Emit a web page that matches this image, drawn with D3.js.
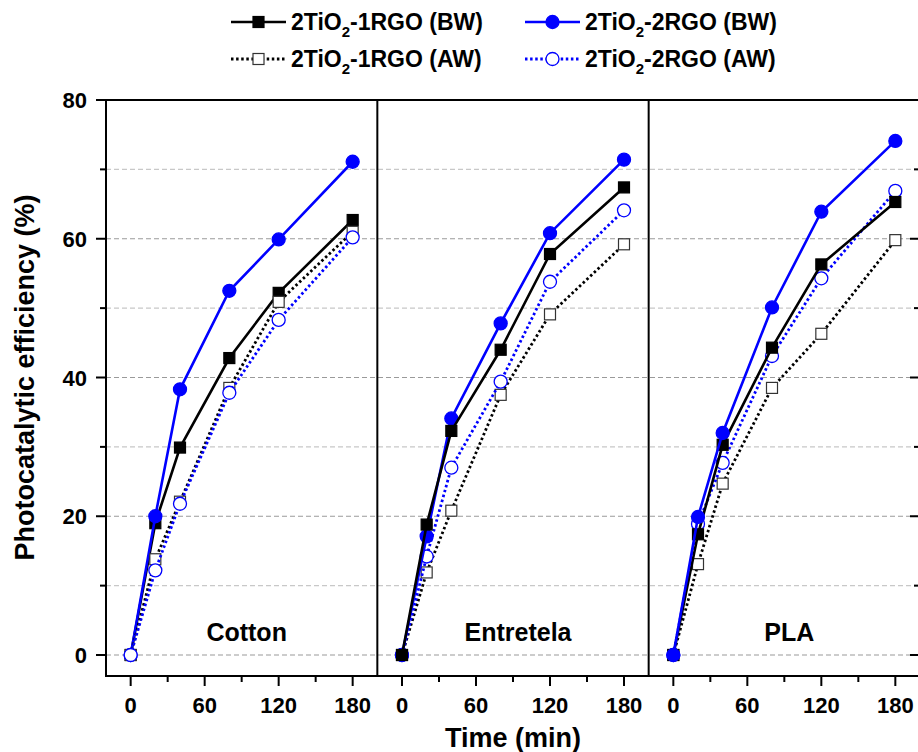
<!DOCTYPE html>
<html lang="en">
<head>
<meta charset="UTF-8">
<title>Photocatalytic efficiency</title>
<script src="https://cdn.jsdelivr.net/npm/d3@7"></script>
<style>
  body { margin: 0; background: #fff; }
  text { font-family: Arial, "Liberation Sans", sans-serif; font-weight: bold; fill: #000; }
</style>
</head>
<body>
<script>
// data
const times = [0, 20, 40, 80, 120, 180];
const panels = ["Cotton", "Entretela", "PLA"];
const seriesNames = ["1RGO (BW)", "2RGO (BW)", "1RGO (AW)", "2RGO (AW)"];

const cottonBW1 = [0, 19.0, 29.9, 42.8, 52.2, 62.7];
const cottonBW2 = [0, 20.0, 38.3, 52.5, 59.9, 71.1];
const cottonAW1 = [0, 13.8, 22.1, 38.5, 50.9, 61.0];
const cottonAW2 = [0, 12.2, 21.8, 37.8, 48.3, 60.2];

const entreBW1 = [0, 18.8, 32.3, 44.0, 57.8, 67.4];
const entreBW2 = [0, 17.1, 34.1, 47.8, 60.8, 71.4];
const entreAW1 = [0, 11.9, 20.8, 37.5, 49.1, 59.2];
const entreAW2 = [0, 14.2, 27.0, 39.4, 53.8, 64.1];

const plaBW1 = [0, 17.4, 30.3, 44.3, 56.3, 65.3];
const plaBW2 = [0, 19.9, 32.0, 50.1, 63.9, 74.1];
const plaAW1 = [0, 13.1, 24.7, 38.5, 46.3, 59.8];
const plaAW2 = [0, 18.9, 27.7, 43.1, 54.3, 66.9];

const panelData = [
  [cottonBW1, cottonBW2, cottonAW1, cottonAW2],
  [entreBW1, entreBW2, entreAW1, entreAW2],
  [plaBW1, plaBW2, plaAW1, plaAW2]
];
// which series ends up on top differs per panel
const drawOrder = [[0, 1, 2, 3], [2, 3, 1, 0], [2, 3, 0, 1]];

const yTicks = [0, 20, 40, 60, 80];
const xTicks = [0, 60, 120, 180];

// styles per series: BW1, BW2, AW1, AW2
const styles = [
  { color: "#000", dash: null, shape: "square", fill: "#000" },
  { color: "#0000ff", dash: null, shape: "circle", fill: "#0000ff" },
  { color: "#000", dash: "2.5,2.6", shape: "square", fill: "#fff" },
  { color: "#0000ff", dash: "2.5,2.6", shape: "circle", fill: "#fff" }
];

const width = 918, height = 752;
const plotL = 106, plotR = 920, plotT = 100, plotB = 676;
const panelW = (plotR - plotL) / 3;

const svg = d3.select("body").append("svg")
  .attr("width", width)
  .attr("height", height);

const y = d3.scaleLinear().domain([0, 80]).range([655, plotT]);

// gridlines every 10, across all panels
const grid = svg.append("g");
d3.range(0, 80, 10).forEach(v => {
  grid.append("line")
    .attr("x1", plotL).attr("x2", plotR)
    .attr("y1", y(v)).attr("y2", y(v))
    .attr("stroke", v % 20 === 0 ? "#9a9a9a" : "#c8c8c8")
    .attr("stroke-width", 1.2)
    .attr("stroke-dasharray", "5,3");
});

function marker(g, s, cx, cy) {
  if (s.shape === "square") {
    g.append("rect")
      .attr("x", cx - 5.5).attr("y", cy - 5.5)
      .attr("width", 11).attr("height", 11)
      .attr("fill", s.fill)
      .attr("stroke", s.fill === "#fff" ? "#333" : "#000")
      .attr("stroke-width", 1.2);
  } else {
    g.append("circle")
      .attr("cx", cx).attr("cy", cy).attr("r", 6.5)
      .attr("fill", s.fill)
      .attr("stroke", s.color)
      .attr("stroke-width", 1.3);
  }
}

panels.forEach((name, p) => {
  const x0 = plotL + p * panelW;
  const x = d3.scaleLinear().domain([-20, 200]).range([x0, x0 + panelW]);
  const g = svg.append("g");

  const line = d3.line()
    .x((d, i) => x(times[i]))
    .y(d => y(d));

  drawOrder[p].forEach(k => {
    const s = styles[k];
    const vals = panelData[p][k];
    g.append("path")
      .attr("d", line(vals))
      .attr("fill", "none")
      .attr("stroke", s.color)
      .attr("stroke-width", s.dash ? 2.8 : 2.6)
      .attr("stroke-dasharray", s.dash);
    vals.forEach((v, i) => marker(g, s, x(times[i]), y(v)));
  });

  // bottom axis
  const ax = svg.append("g").attr("transform", `translate(0,${plotB})`);
  d3.range(0, 181, 30).forEach(t => {
    const major = t % 60 === 0;
    ax.append("line")
      .attr("x1", x(t)).attr("x2", x(t))
      .attr("y1", 0).attr("y2", major ? 10 : 6)
      .attr("stroke", "#000").attr("stroke-width", 2);
  });
  ax.selectAll("text.tick").data(xTicks).join("text")
    .attr("x", d => x(d))
    .attr("y", 37)
    .attr("text-anchor", "middle")
    .attr("font-size", 22)
    .text(d => d);

  svg.append("text")
    .attr("x", x(90) + 5)
    .attr("y", 641)
    .attr("text-anchor", "middle")
    .attr("font-size", 25)
    .text(name);

  if (p > 0) {
    svg.append("line")
      .attr("x1", x0).attr("x2", x0)
      .attr("y1", plotT).attr("y2", plotB)
      .attr("stroke", "#000").attr("stroke-width", 2);
  }
});

// frame
svg.append("line").attr("x1", plotL - 10).attr("x2", plotR).attr("y1", plotT).attr("y2", plotT)
  .attr("stroke", "#000").attr("stroke-width", 2);
svg.append("line").attr("x1", plotL).attr("x2", plotR).attr("y1", plotB).attr("y2", plotB)
  .attr("stroke", "#000").attr("stroke-width", 2);
svg.append("line").attr("x1", plotL).attr("x2", plotL).attr("y1", plotT).attr("y2", plotB + 1)
  .attr("stroke", "#000").attr("stroke-width", 2);
svg.append("line").attr("x1", plotR).attr("x2", plotR).attr("y1", plotT).attr("y2", plotB)
  .attr("stroke", "#000").attr("stroke-width", 2);

// y ticks, left outward and right inward
d3.range(0, 81, 10).forEach(v => {
  const major = v % 20 === 0;
  const len = major ? 10 : 6;
  svg.append("line").attr("x1", plotL - len).attr("x2", plotL)
    .attr("y1", y(v)).attr("y2", y(v)).attr("stroke", "#000").attr("stroke-width", 2);
  svg.append("line").attr("x1", plotR - len).attr("x2", plotR)
    .attr("y1", y(v)).attr("y2", y(v)).attr("stroke", "#000").attr("stroke-width", 2);
});
svg.append("g").selectAll("text").data(yTicks).join("text")
  .attr("x", 87)
  .attr("y", d => y(d) + 8)
  .attr("text-anchor", "end")
  .attr("font-size", 22)
  .text(d => d);

// axis titles
svg.append("text")
  .attr("x", (plotL + plotR) / 2)
  .attr("y", 747)
  .attr("text-anchor", "middle")
  .attr("font-size", 27)
  .text("Time (min)");

svg.append("text")
  .attr("transform", `translate(34,${y(40)}) rotate(-90)`)
  .attr("text-anchor", "middle")
  .attr("font-size", 27)
  .text("Photocatalytic efficiency (%)");

// legend
const legendPos = [[231, 22], [525, 22], [231, 59], [525, 59]];
const legendOrder = [0, 1, 2, 3];
legendOrder.forEach((k, i) => {
  const s = styles[k];
  const [lx, ly] = legendPos[i];
  const lg = svg.append("g");
  lg.append("line")
    .attr("x1", lx).attr("x2", lx + 55)
    .attr("y1", ly).attr("y2", ly)
    .attr("stroke", s.color)
    .attr("stroke-width", s.dash ? 2.8 : 2.6)
    .attr("stroke-dasharray", s.dash);
  marker(lg, s, lx + 27.5, ly);
  const t = lg.append("text")
    .attr("x", lx + 60)
    .attr("y", ly + 8)
    .attr("font-size", 23);
  t.append("tspan").text("2TiO");
  t.append("tspan").attr("font-size", 15).attr("dy", 7).text("2");
  t.append("tspan").attr("dy", -7).text("-" + seriesNames[k]);
});
</script>
</body>
</html>
